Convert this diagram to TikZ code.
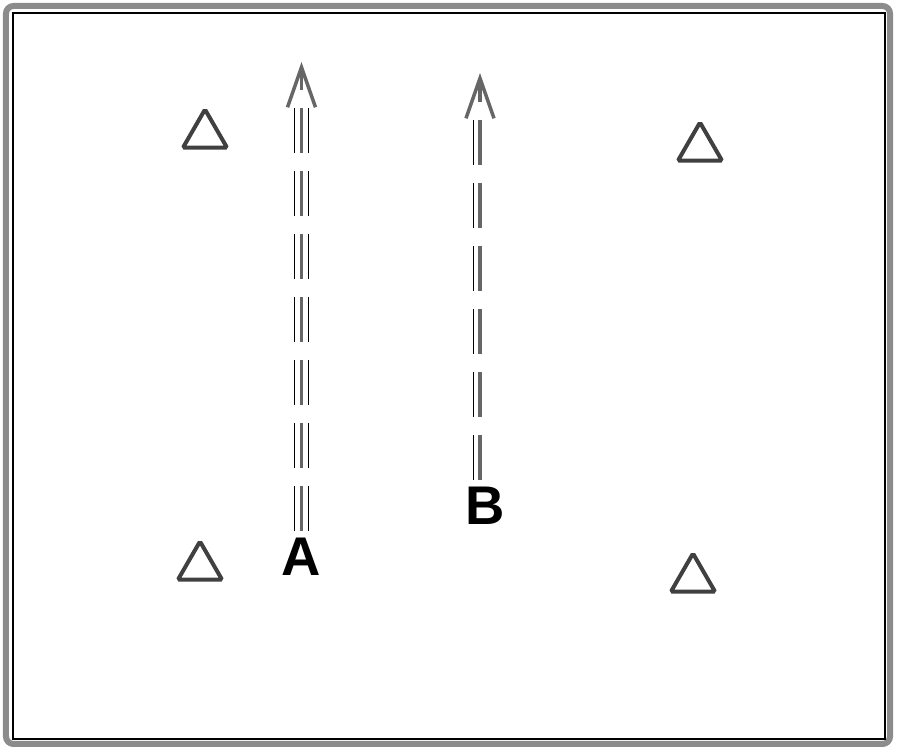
\documentclass[tikz,border=0pt]{standalone}
\usepackage{fontspec}
\setmainfont{Liberation Sans}
\usetikzlibrary{arrows.meta,shapes.geometric}

\begin{document}
\begin{tikzpicture}
    % Styles
    \tikzstyle{cadre}=[draw=black!45,line width=0.12cm,rounded corners=0.15cm]
    \tikzstyle{bord}=[draw=black,line width=0.6pt]
    \tikzstyle{plot}=[regular polygon,regular polygon sides=3,draw=black!75,line width=0.08cm,minimum size=1.02cm,inner sep=0pt,rounded corners=1pt]
    \tikzstyle{lettre}=[font=\bfseries\fontsize{31}{31}\selectfont,inner sep=4pt]
    \tikzstyle{piste}=[draw=black,line width=0.4pt,double=white,double distance=0.26cm,dash pattern=on 0.9cm off 0.36cm,shorten >=0.8cm]
    \tikzstyle{fleche}=[-{Straight Barb[length=0.8cm,width=0.56cm]},draw=black!60,line width=0.07cm,dash pattern=on 0.9cm off 0.36cm]
    % Cadre
    \useasboundingbox (0,0) rectangle (18,15.04);
    \draw[cadre] (0.12,0.16) rectangle (17.80,14.92);
    \draw[bord] (0.26,0.26) rectangle (17.70,14.78);
    % Plots
    \node[plot] (P1) at (4.10,12.34) {};
    \node[plot] (P2) at (14.00,12.08) {};
    \node[plot] (P3) at (4.00,3.70) {};
    \node[plot] (P4) at (13.86,3.46) {};
    % Lettres
    \node[lettre] (A) at (6.03,3.90) {A};
    \node[lettre] (B) at (9.70,4.92) {B};
    % Fleches
    \coordinate (HA) at (6.03,13.80);
    \coordinate (HB) at (9.60,13.58);
    \draw[piste] (A) -- (HA);
    \draw[fleche] (A) -- (HA);
    \draw[piste] (B.north -| HB) -- (HB);
    \draw[fleche] (B.north -| HB) -- (HB);
\end{tikzpicture}
\end{document}
